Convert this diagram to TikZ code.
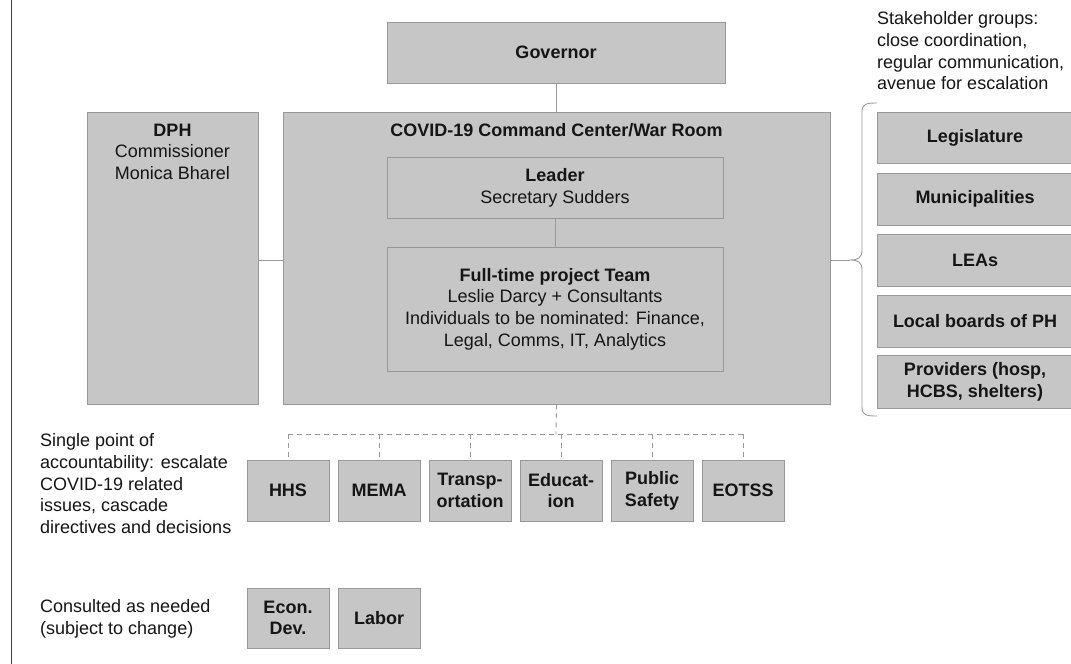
\documentclass[tikz,border=0pt]{standalone}
\usepackage{fontspec}
\setmainfont{Liberation Sans}
\begin{document}
\begin{tikzpicture}[x=1pt,y=-1pt,
  box/.style={draw=boxline,fill=boxfill,line width=0.9pt,inner sep=0pt,anchor=center,align=center,text=txt,font=\fontsize{18}{21.7}\selectfont},
  plain/.style={inner sep=0pt,align=left,text=txt,font=\fontsize{18}{21.7}\selectfont},
  bbox/.style={box,minimum width=82pt,font=\fontsize{18}{21.7}\selectfont\bfseries},
  conn/.style={draw=boxline,line width=0.9pt},
  dconn/.style={draw=boxline,line width=0.9pt,dash pattern=on 5pt off 4pt}]
\definecolor{boxfill}{HTML}{C6C6C6}
\definecolor{boxline}{HTML}{999999}
\definecolor{txt}{HTML}{151515}
\useasboundingbox (0,0) rectangle (1071,664);
\fill[white] (0,0) rectangle (1071,664);
\draw[line width=1pt,color=black!75] (11,0) -- (11,664);
% top
\node[box,minimum width=338pt,minimum height=61pt] (gov) at (556,52.5) {\textbf{Governor}};
\node[box,minimum width=171pt,minimum height=292pt] (dph) at (172.5,258) {};
\node[plain,align=center,anchor=north] (dphtxt) at (172.5,123.5) {\textbf{DPH}\\Commissioner\\Monica Bharel};
\node[box,minimum width=547pt,minimum height=292pt] (cmd) at (556.5,258) {};
\node[plain,align=center,anchor=north] (cmdtxt) at (556.5,123.5) {\textbf{COVID-19 Command Center/War Room}};
\node[box,minimum width=336pt,minimum height=61pt] (lead) at (555,187.5) {\textbf{Leader}\\Secretary Sudders};
\node[box,minimum width=336pt,minimum height=124pt] (team) at (555,309) {\textbf{Full-time project Team}\\Leslie Darcy + Consultants\\Individuals to be nominated: Finance,\\Legal, Comms, IT, Analytics};
\draw[conn] (gov.south) -- (gov.south |- cmd.north);
\draw[conn] (lead.south) -- (team.north);
\draw[conn] (dph.east |- 0,260) -- (cmd.west |- 0,260);
% stakeholders
\node[plain,anchor=north west] (sh) at (877,11.5) {Stakeholder groups:\\close coordination,\\regular communication,\\avenue for escalation};
\coordinate (btip) at (850,260);
\draw[conn] (cmd.east |- btip) -- (btip);
\draw[boxline,line width=0.9pt] (877,103) .. controls (866,103) and (862,104) .. (862,112) -- (862,250) .. controls (862,258) and (858,260) .. (btip) .. controls (858,260) and (862,262) .. (862,270) -- (862,407) .. controls (862,415) and (866,416) .. (877,416);
\node[box,minimum width=196pt,minimum height=51pt] (leg) at (975,137.5) {\textbf{Legislature}};
\node[box,minimum width=196pt,minimum height=52pt] (mun) at (975,199) {\textbf{Municipalities}};
\node[box,minimum width=196pt,minimum height=52pt] (lea) at (975,260) {\textbf{LEAs}};
\node[box,minimum width=196pt,minimum height=52pt] (lbp) at (975,321) {\textbf{Local boards of PH}};
\node[box,minimum width=196pt,minimum height=53pt] (prov) at (975,381.5) {\textbf{Providers (hosp,}\\\textbf{HCBS, shelters)}};
% secretariats
\node[plain,anchor=north west] (spa) at (40,433.5) {Single point of\\accountability: escalate\\COVID-19 related\\issues, cascade\\directives and decisions};
\foreach \n/\x/\t in {hhs/288/HHS, mema/379/MEMA, tra/470/{Transp-\\ortation}, edu/561/{Educat-\\ion}, ps/652/{Public\\Safety}, eot/743/EOTSS}{
  \node[bbox,minimum height=61pt] (\n) at (\x,490.5) {\t};
}
\coordinate (bus) at (556,434);
\draw[dconn] (cmd.south) -- (bus);
\draw[dconn] (hhs.north |- bus) -- (eot.north |- bus);
\foreach \n in {hhs,mema,tra,edu,ps,eot}{\draw[dconn] (\n.north |- bus) -- (\n.north);}
\node[plain,anchor=north west] (cons) at (40,599.5) {Consulted as needed\\(subject to change)};
\node[bbox,minimum height=60pt] (econ) at (288,618) {Econ.\\Dev.};
\node[bbox,minimum height=60pt] (lab) at (379,618) {Labor};
\end{tikzpicture}
\end{document}
